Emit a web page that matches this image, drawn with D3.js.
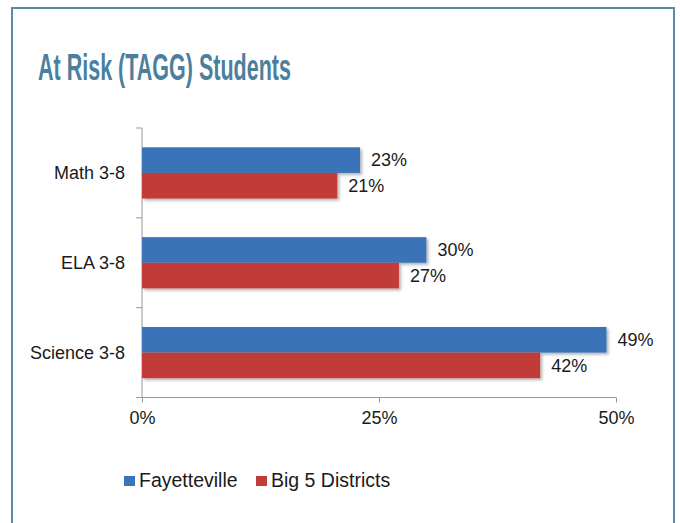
<!DOCTYPE html>
<html>
<head>
<meta charset="utf-8">
<script src="https://cdn.jsdelivr.net/npm/d3@7"></script>
<style>
  html, body { margin: 0; padding: 0; background: #fff; }
  svg { display: block; font-family: "Liberation Sans", Arial, Helvetica, sans-serif; }
</style>
</head>
<body>
<svg id="chart" width="680" height="523"></svg>
<script>
// chart data
const categories = ["Math 3-8", "ELA 3-8", "Science 3-8"];
const seriesNames = ["Fayetteville", "Big 5 Districts"];
const fayetteville = [0.23, 0.30, 0.49];
const big5 = [0.206, 0.271, 0.42];
const xTicks = [0, 0.25, 0.5];
const colors = ["#3a73b9", "#c13b39"];

const svg = d3.select("#chart");

// frame
svg.append("rect")
  .attr("x", 12).attr("y", 8)
  .attr("width", 662).attr("height", 530)
  .attr("fill", "none")
  .attr("stroke", "#5b8aa8")
  .attr("stroke-width", 2);

// title
svg.append("text")
  .attr("x", 38).attr("y", 80)
  .attr("font-family", "'Liberation Sans Narrow', 'Arial Narrow', 'Liberation Sans', sans-serif")
  .attr("font-weight", "bold")
  .attr("font-size", 37)
  .attr("fill", "#4c7f9d")
  .attr("textLength", 253)
  .attr("lengthAdjust", "spacingAndGlyphs")
  .text("At Risk (TAGG) Students");

// drop shadow for bars
const defs = svg.append("defs");
defs.append("filter").attr("id", "shadow")
  .attr("x", "-5%").attr("y", "-20%").attr("width", "115%").attr("height", "160%")
  .append("feDropShadow")
  .attr("dx", 2).attr("dy", 2).attr("stdDeviation", 1.5)
  .attr("flood-color", "#000").attr("flood-opacity", 0.3);

const plotLeft = 142, plotRight = 616, plotTop = 128, plotBottom = 397.5;

const x = d3.scaleLinear().domain([0, 0.5]).range([plotLeft, plotRight]);
const y = d3.scaleBand().domain(categories).range([plotTop, plotBottom])
  .paddingInner(0.43).paddingOuter(0.215);
const ySub = d3.scaleBand().domain(seriesNames).range([0, y.bandwidth()]);

const rows = categories.map((c, i) => ({ cat: c, vals: [fayetteville[i], big5[i]] }));

// axes
const axisColor = "#9a9a9a";
const xAxis = svg.append("g")
  .attr("transform", `translate(0,${plotBottom})`)
  .call(d3.axisBottom(x).tickValues(xTicks).tickFormat(d3.format(".0%")).tickSize(5).tickPadding(9));
xAxis.select(".domain").attr("stroke", axisColor).attr("d", `M${plotLeft - 6},0H${plotRight}`);
xAxis.selectAll(".tick line").attr("stroke", axisColor);
xAxis.selectAll(".tick text").attr("font-size", 18).attr("fill", "#1a1a1a")
  .attr("font-family", "'Liberation Sans', Arial, sans-serif");

// y axis line and boundary ticks
svg.append("line")
  .attr("x1", plotLeft).attr("x2", plotLeft).attr("y1", plotTop).attr("y2", plotBottom)
  .attr("stroke", axisColor);
svg.selectAll(".ytick")
  .data(d3.range(categories.length + 1))
  .join("line")
  .attr("x1", plotLeft - 6).attr("x2", plotLeft)
  .attr("y1", i => plotTop + i * y.step())
  .attr("y2", i => plotTop + i * y.step())
  .attr("stroke", axisColor);

// category labels
svg.selectAll(".cat")
  .data(categories)
  .join("text")
  .attr("x", 125)
  .attr("y", d => y(d) + y.bandwidth() / 2)
  .attr("dy", "0.35em")
  .attr("text-anchor", "end")
  .attr("font-size", 18)
  .attr("fill", "#1a1a1a")
  .text(d => d);

// bars
const groups = svg.selectAll(".grp")
  .data(rows)
  .join("g")
  .attr("transform", d => `translate(0,${y(d.cat)})`);

groups.selectAll("rect")
  .data(d => d.vals.map((v, j) => ({ v, s: seriesNames[j], j })))
  .join("rect")
  .attr("x", x(0))
  .attr("y", d => ySub(d.s))
  .attr("width", d => x(d.v) - x(0))
  .attr("height", ySub.bandwidth())
  .attr("fill", d => colors[d.j])
  .attr("filter", "url(#shadow)");

groups.selectAll(".val")
  .data(d => d.vals.map((v, j) => ({ v, s: seriesNames[j], j })))
  .join("text")
  .attr("x", d => x(d.v) + 11)
  .attr("y", d => ySub(d.s) + ySub.bandwidth() / 2)
  .attr("dy", "0.35em")
  .attr("font-size", 18)
  .attr("fill", "#1a1a1a")
  .text(d => d3.format(".0%")(d.v));

// legend
const legend = svg.append("g").attr("transform", "translate(124,476)");
const legendX = [0, 132];
seriesNames.forEach((name, i) => {
  const g = legend.append("g").attr("transform", `translate(${legendX[i]},0)`);
  g.append("rect").attr("width", 11).attr("height", 10).attr("fill", colors[i]);
  g.append("text").attr("x", 15).attr("y", 11)
    .attr("font-size", 19.5).attr("fill", "#1a1a1a").text(name);
});
</script>
</body>
</html>
